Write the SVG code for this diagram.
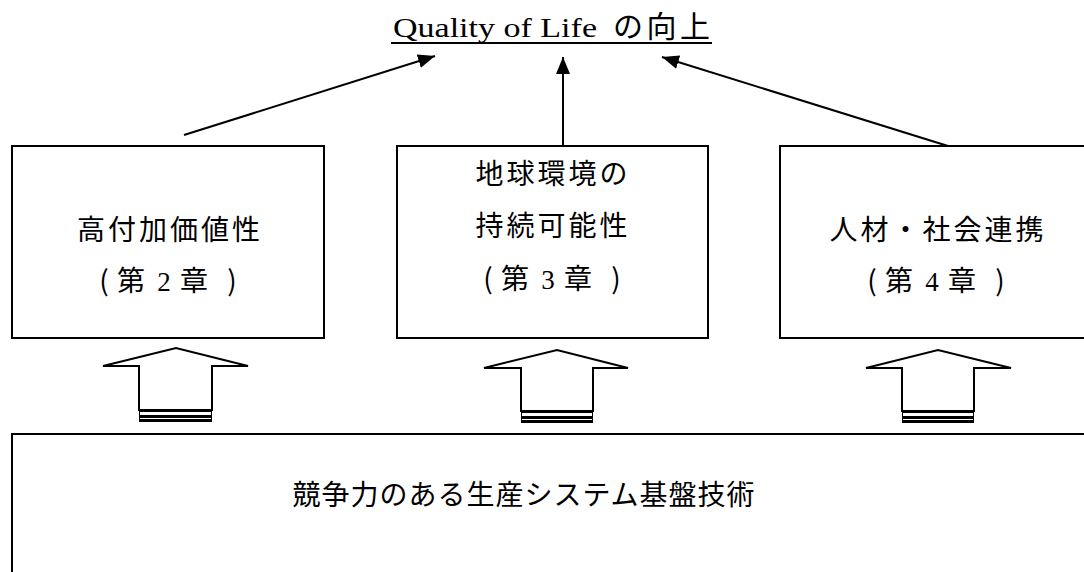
<svg xmlns="http://www.w3.org/2000/svg" width="1084" height="572" viewBox="0 0 1084 572">
<style>
.box{fill:#fff;stroke:#000;stroke-width:2}
.con{fill:none;stroke:#000;stroke-width:2}
.blk{fill:#fff;stroke:#000;stroke-width:2;stroke-linejoin:miter}
.t{font-family:"Noto Sans CJK JP",sans-serif;font-size:28px;fill:#000;text-anchor:middle;letter-spacing:3px}
.c{font-family:"Noto Sans CJK JP",sans-serif;font-size:28px;fill:#000;text-anchor:middle}
.d{font-family:"Liberation Serif",serif;font-size:27px;fill:#000;text-anchor:middle}
.jp{font-family:"Noto Sans CJK JP",sans-serif;font-size:30px;fill:#000}
</style>
<defs>
<marker id="ah" markerUnits="userSpaceOnUse" markerWidth="18" markerHeight="14" refX="17" refY="7" orient="auto">
<path d="M0,0 L17,7 L0,14 z" fill="#000"/>
</marker>
</defs>
<rect width="1084" height="572" fill="#fff"/>

<g id="title">
<text x="393" y="37" font-family="Liberation Serif,serif" font-size="28" textLength="204" lengthAdjust="spacingAndGlyphs">Quality of Life</text>
<text x="613" y="37" class="jp" textLength="97" lengthAdjust="spacing">の向上</text>
<line x1="391" y1="43" x2="712" y2="43" stroke="#000" stroke-width="2"/>
</g>

<g id="connectors">
<line class="con" x1="184" y1="135" x2="435" y2="56" marker-end="url(#ah)"/>
<line class="con" x1="563" y1="146" x2="563" y2="57" marker-end="url(#ah)"/>
<line class="con" x1="948" y1="146" x2="662" y2="57" marker-end="url(#ah)"/>
</g>

<g id="box1">
<rect class="box" x="12" y="146" width="312" height="192"/>
<text class="t" x="170" y="240">高付加価値性</text>
<text class="c" x="104" y="291">(</text>
<text class="c" x="131" y="291">第</text>
<text class="d" x="164" y="291">2</text>
<text class="c" x="194" y="291">章</text>
<text class="c" x="232" y="291">)</text>
</g>

<g id="box2">
<rect class="box" x="397" y="146" width="311" height="192"/>
<text class="t" x="553" y="184">地球環境の</text>
<text class="t" x="553" y="236">持続可能性</text>
<text class="c" x="488" y="289">(</text>
<text class="c" x="515" y="289">第</text>
<text class="d" x="548" y="289">3</text>
<text class="c" x="578" y="289">章</text>
<text class="c" x="616" y="289">)</text>
</g>

<g id="box3">
<rect class="box" x="780" y="146" width="320" height="192"/>
<text class="t" x="938" y="240">人材・社会連携</text>
<text class="c" x="872" y="291">(</text>
<text class="c" x="899" y="291">第</text>
<text class="d" x="932" y="291">4</text>
<text class="c" x="962" y="291">章</text>
<text class="c" x="1000" y="291">)</text>
</g>

<g id="blockarrow1">
<path class="blk" d="M139,410 L139,366 L103,366 L176,348 L248,366 L212,366 L212,410 Z"/>
<rect x="139" y="409" width="73" height="13" fill="#000"/>
<rect x="140" y="412" width="71" height="3" fill="#fff"/>
<rect x="140" y="418" width="71" height="1" fill="#fff"/>
</g>

<g id="blockarrow2">
<path class="blk" d="M521,411 L521,368 L484,368 L557,350 L628,368 L593,368 L593,411 Z"/>
<rect x="521" y="410" width="72" height="13" fill="#000"/>
<rect x="522" y="413" width="70" height="3" fill="#fff"/>
<rect x="522" y="419" width="70" height="1" fill="#fff"/>
</g>

<g id="blockarrow3">
<path class="blk" d="M902,411 L902,368 L866,368 L938,350 L1011,368 L974,368 L974,411 Z"/>
<rect x="902" y="410" width="72" height="13" fill="#000"/>
<rect x="903" y="413" width="70" height="3" fill="#fff"/>
<rect x="903" y="419" width="70" height="1" fill="#fff"/>
</g>

<g id="base">
<rect class="box" x="12" y="434" width="1100" height="160"/>
<text class="t" x="524" y="505" style="letter-spacing:1px">競争力のある生産システム基盤技術</text>
</g>
</svg>
